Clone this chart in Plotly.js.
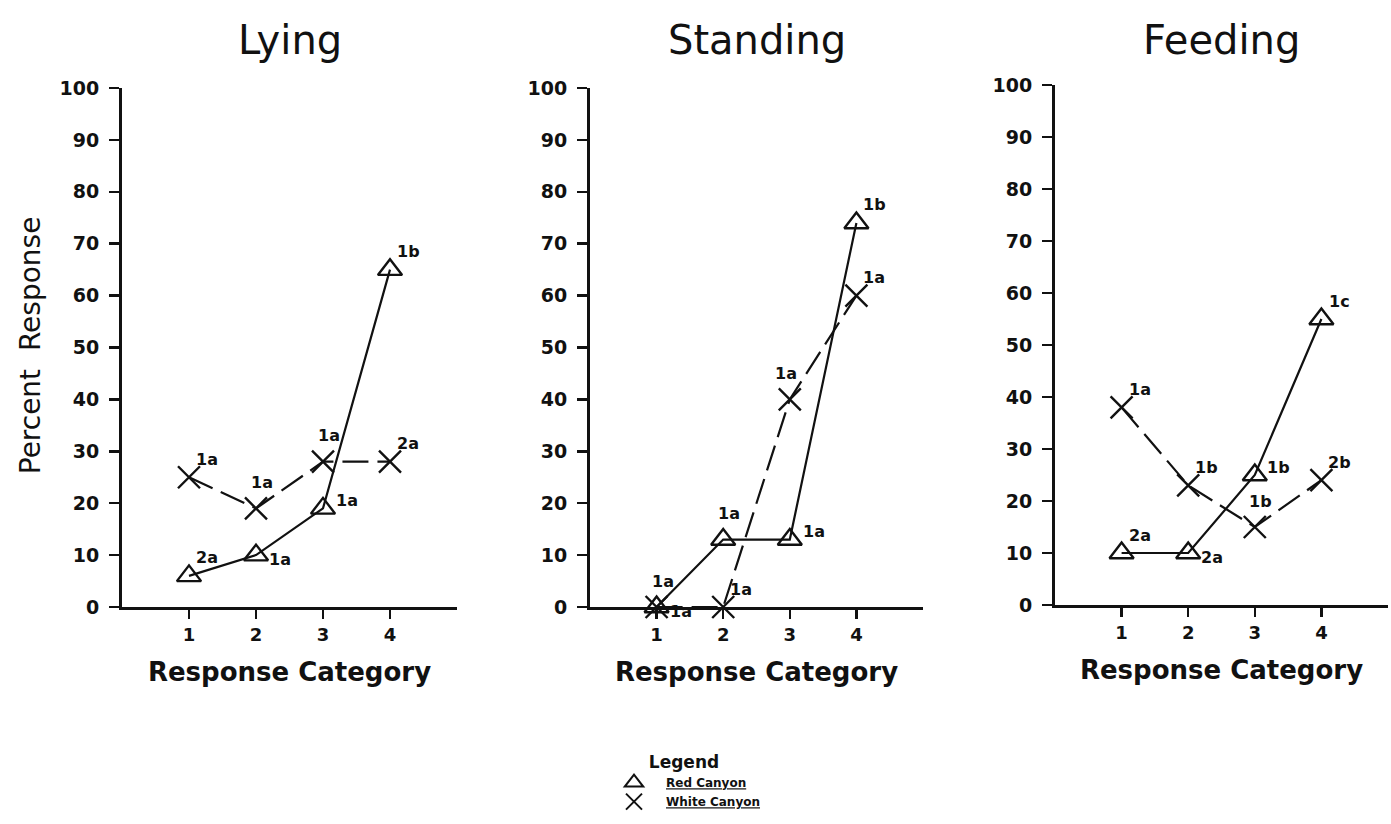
<!DOCTYPE html>
<html>
<head>
<meta charset="utf-8">
<script src="https://cdn.plot.ly/plotly-3.0.1.min.js"></script>
<style>
  html, body { margin: 0; padding: 0; background: #fff; }
  #chart { width: 1391px; height: 824px; }
</style>
</head>
<body>
<div id="chart"></div>
<script>
// Response categories on the x axis
const categories = [1, 2, 3, 4];
const panelNames = ['Lying', 'Standing', 'Feeding'];

// Percent response, Red Canyon (triangles)
const redLying    = [6, 10, 19, 65];
const redStanding = [0, 13, 13, 74];
const redFeeding  = [10, 10, 25, 55];

// Percent response, White Canyon (crosses)
const whiteLying    = [25, 19, 28, 28];
const whiteStanding = [0, 0, 40, 60];
const whiteFeeding  = [38, 23, 15, 24];

// Significance letters printed beside each point
const redLyingLabels      = ['2a', '1a', '1a', '1b'];
const redStandingLabels   = ['1a', '1a', '1a', '1b'];
const redFeedingLabels    = ['2a', '2a', '1b', '1c'];
const whiteLyingLabels    = ['1a', '1a', '1a', '2a'];
const whiteStandingLabels = ['1a', '1a', '1a', '1a'];
const whiteFeedingLabels  = ['1a', '1b', '1b', '2b'];

const yTicks = [0, 10, 20, 30, 40, 50, 60, 70, 80, 90, 100];

// Where each letter sits relative to its marker
const PLACE = {
  ur: {xshift: 18, yshift: 18},
  r:  {xshift: 24, yshift: -4},
  rU: {xshift: 24, yshift: 8},
  u:  {xshift: 6,  yshift: 26},
  ul: {xshift: -4, yshift: 26}
};
const redPlace = [
  ['ur', 'r', 'rU', 'ur'],
  ['r', 'u', 'rU', 'ur'],
  ['ur', 'r', 'rU', 'ur']
];
const whitePlace = [
  ['ur', 'u', 'u', 'ur'],
  ['u', 'ur', 'ul', 'ur'],
  ['ur', 'ur', 'u', 'ur']
];

const redSeries   = [redLying, redStanding, redFeeding];
const whiteSeries = [whiteLying, whiteStanding, whiteFeeding];
const redLabels   = [redLyingLabels, redStandingLabels, redFeedingLabels];
const whiteLabels = [whiteLyingLabels, whiteStandingLabels, whiteFeedingLabels];

const FONT = 'DejaVu Sans, sans-serif';
const INK = '#111';

const traces = [];
const annotations = [];

panelNames.forEach((name, i) => {
  const sx = i === 0 ? '' : String(i + 1);
  const xa = 'x' + sx, ya = 'y' + sx;

  traces.push({
    x: categories, y: redSeries[i], xaxis: xa, yaxis: ya,
    type: 'scatter', mode: 'lines+markers', name: 'Red Canyon', showlegend: false,
    line: {color: INK, width: 2.2},
    marker: {symbol: 'triangle-up-open', size: 21, color: INK, line: {color: INK, width: 2.4}},
    cliponaxis: false
  });
  traces.push({
    x: categories, y: whiteSeries[i], xaxis: xa, yaxis: ya,
    type: 'scatter', mode: 'lines+markers', name: 'White Canyon', showlegend: false,
    line: {color: INK, width: 2.2, dash: '26px,9px'},
    marker: {symbol: 'x-thin-open', size: 22, color: INK, line: {color: INK, width: 2.4}},
    cliponaxis: false
  });

  categories.forEach((c, k) => {
    const pr = PLACE[redPlace[i][k]];
    annotations.push({
      x: c, y: redSeries[i][k], xref: xa, yref: ya, text: '<b>' + redLabels[i][k] + '</b>',
      showarrow: false, xshift: pr.xshift, yshift: pr.yshift,
      font: {family: FONT, size: 16, color: INK}
    });
    const pw = PLACE[whitePlace[i][k]];
    annotations.push({
      x: c, y: whiteSeries[i][k], xref: xa, yref: ya, text: '<b>' + whiteLabels[i][k] + '</b>',
      showarrow: false, xshift: pw.xshift, yshift: pw.yshift,
      font: {family: FONT, size: 16, color: INK}
    });
  });

  // Panel heading
  annotations.push({
    x: 0.5, y: 0.951, xref: xa + ' domain', yref: 'paper', text: name,
    showarrow: false, xanchor: 'center', yanchor: 'middle',
    font: {family: FONT, size: 40, color: INK}
  });
});

// Legend-only entries
traces.push({
  x: [null], y: [null], type: 'scatter', mode: 'markers', name: '<b><u>Red Canyon</u></b>',
  marker: {symbol: 'triangle-up-open', size: 16, color: INK, line: {color: INK, width: 2}},
  showlegend: true
});
traces.push({
  x: [null], y: [null], type: 'scatter', mode: 'markers', name: '<b><u>White Canyon</u></b>',
  marker: {symbol: 'x-thin-open', size: 16, color: INK, line: {color: INK, width: 2}},
  showlegend: true
});

// Y-axis title shared on the left
annotations.push({
  x: 30 / 1391, y: 0.581, xref: 'paper', yref: 'paper', text: 'Percent  Response',
  showarrow: false, textangle: -90, xanchor: 'center', yanchor: 'middle',
  font: {family: FONT, size: 28, color: INK}
});

function xAxis(domain, anchor) {
  return {
    domain: domain, anchor: anchor, range: [0, 5],
    tickvals: categories, ticktext: categories.map(String),
    ticks: 'outside', ticklen: 9, tickwidth: 2.5, tickcolor: INK,
    showline: true, linewidth: 3, linecolor: INK,
    showgrid: false, zeroline: false, fixedrange: true,
    tickfont: {family: FONT, size: 18, color: INK, weight: 'bold'},
    title: {text: '<b>Response Category</b>', standoff: 20,
            font: {family: FONT, size: 26, color: INK}}
  };
}
function yAxis(domain, anchor) {
  return {
    domain: domain, anchor: anchor, range: [0, 100],
    tickvals: yTicks, ticktext: yTicks.map(String),
    ticks: 'outside', ticklen: 10, tickwidth: 2.5, tickcolor: INK,
    ticklabelstandoff: 6,
    showline: true, linewidth: 3, linecolor: INK,
    showgrid: false, zeroline: false, fixedrange: true,
    tickfont: {family: FONT, size: 19, color: INK, weight: 'bold'}
  };
}

const W = 1391, H = 824;
const layout = {
  width: W, height: H,
  margin: {l: 0, r: 0, t: 0, b: 0},
  paper_bgcolor: '#fff', plot_bgcolor: '#fff',
  showlegend: true,
  legend: {
    x: 602 / W, y: 1 - 746 / H, xanchor: 'left', yanchor: 'top',
    bgcolor: 'rgba(0,0,0,0)', borderwidth: 0,
    font: {family: FONT, size: 12, color: INK},
    title: {text: '<b>Legend</b>', side: 'top center', font: {family: FONT, size: 17, color: INK}},
    itemwidth: 54, tracegroupgap: 0
  },
  xaxis:  xAxis([122 / W, 457 / W], 'y'),
  yaxis:  yAxis([1 - 607 / H, 1 - 88 / H], 'x'),
  xaxis2: xAxis([590 / W, 923 / W], 'y2'),
  yaxis2: yAxis([1 - 607 / H, 1 - 88 / H], 'x2'),
  xaxis3: xAxis([1055 / W, 1388 / W], 'y3'),
  yaxis3: yAxis([1 - 605 / H, 1 - 85 / H], 'x3'),
  annotations: annotations
};

Plotly.newPlot('chart', traces, layout, {displayModeBar: false, staticPlot: true});
</script>
</body>
</html>
